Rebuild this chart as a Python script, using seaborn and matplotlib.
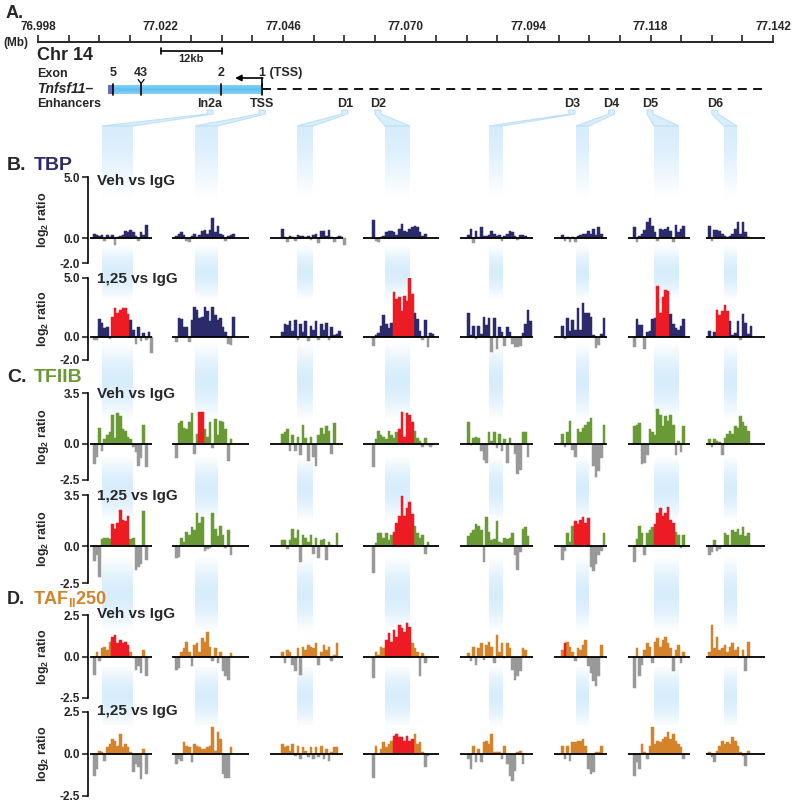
import numpy as np
import pandas as pd
import matplotlib
matplotlib.use('Agg')
import matplotlib.pyplot as plt
import seaborn as sns
from matplotlib.patches import Polygon, Rectangle

# ==========================
# Estilo
# ==========================
sns.set_style('white')
plt.rcParams['font.family'] = ['Liberation Sans', 'DejaVu Sans']
plt.rcParams['font.weight'] = 'bold'
plt.rcParams['mathtext.fontset'] = 'custom'
plt.rcParams['mathtext.rm'] = 'Liberation Sans:bold'
plt.rcParams['mathtext.bf'] = 'Liberation Sans:bold'
plt.rcParams['mathtext.it'] = 'Liberation Sans:bold:italic'

# ==========================
# Datos: panel A (Mb)
# ==========================
ruler_major = [76.998, 77.022, 77.046, 77.070, 77.094, 77.118, 77.142]
ruler_labels = ['76.998', '77.022', '77.046', '77.070', '77.094', '77.118', '77.142']
ruler_minor = [77.004, 77.010, 77.016, 77.028, 77.034, 77.040, 77.052, 77.058,
               77.064, 77.076, 77.082, 77.088, 77.100, 77.106, 77.112, 77.124,
               77.130, 77.136]
exon_names = ['5', '43', '2', '1']
exon_mb = [77.0127, 77.0182, 77.0339, 77.0419]
gene_start_mb = 77.0117
locus_end_mb = 77.1398
enh_names = ['In2a', 'TSS', 'D1', 'D2', 'D3', 'D4', 'D5', 'D6']
enh_mb = [77.0317, 77.0419, 77.0581, 77.0646, 77.1026, 77.1104, 77.1179, 77.1306]

# ==========================
# Datos: log2 ratio por enhancer (8 grupos por fila)
# ==========================
tbp_veh = [
    [0.4, 0.3, 0.2, 0.3, -0.2, 0.3, 0.1, 0.3, -0.5, 0.1, 0.2, 0.3, 0.6, 0.5, 0.7, 0.5, 0.2, -0.2, 0.5, 0.3, 1.1],
    [0.2, 0.4, 0.5, 0.3, -0.2, -0.3, 0.2, 0.4, 0.1, 0.3, 0.6, 0.7, 0.4, 0.7, 1.7, 0.5, 1.0, 0.4, 0.3, -0.2, 0.2, 0.3, 0.4],
    [0.8, 0.1, -0.3, 0.2, 0.1, -0.2, 0.3, 0.2, 0.2, 0.1, 0.2, -0.1, 0.3, 0.4, -0.4, 0.6, 0.6, 0.2, 0.7, 0.1, -0.3, 0.1, 0.2, 0.1, -0.5],
    [1.5, -0.2, -0.3, 0.1, 0.2, 0.5, 0.6, 0.6, 0.5, 0.3, 0.8, 1.2, 0.6, 0.5, 0.8, 0.9, 1.0, 0.9, 0.5, 0.2, 0.4],
    [0.3, 0.8, -0.4, 0.6, 0.1, 0.9, 0.2, 0.2, 0.3, 0.6, 0.4, 0.2, 0.3, -0.2, 0.2, 0.4, 0.6, 0.5, 0.2, -0.1, 0.3, 0.3, 0.2],
    [0.3, -0.2, 0.1, -0.3, 0.1, -0.3, 0.2, 0.3, 0.4, 0.4, 0.6, 0.4, 0.8, 0.3, 0.9, 0.4],
    [0.9, -0.3, 0.2, 0.4, 0.7, 1.3, 1.7, 1.0, 0.5, -0.2, 0.8, 0.7, 0.8, 0.9, 0.6, -0.3, 1.1, 0.5, 0.8, 1.0],
    [1.0, -0.2, 0.7, 0.7, 0.6, 0.4, 0.2, 0.1, 0.2, 0.4, 0.8, 1.3, 0.4, 1.3, 0.5, 0.1],
]
tbp_125 = [
    [-0.3, -0.3, 1.5, 1.2, 0.7, 0.8, -0.2, 1.7, 2.4, 2.0, 2.3, 2.4, 2.4, 1.9, 1.4, 0.6, -0.6, 0.8, -0.4, 0.3, -0.3, 0.4, -1.4],
    [-0.5, 1.6, 1.5, 0.8, 0.8, -0.5, 1.4, 2.5, 2.3, 1.6, 1.7, 2.5, 2.2, 1.3, 2.5, 1.8, 1.4, 1.6, 0.8, 0.4, -0.6, -0.7, 1.7],
    [0.4, 1.1, 1.0, 1.3, 0.5, 1.4, -0.3, 1.1, 0.4, 1.3, -0.4, 0.9, 0.6, 1.3, -0.3, 1.1, 0.6, 1.2, -0.3, 0.8, 0.1, 0.2, 0.5],
    [-0.8, 0.1, 0.3, 0.9, 1.8, 1.1, 0.7, 1.2, 3.8, 3.2, 3.4, 2.2, 3.5, 3.0, 5.0, 3.6, 2.0, 1.5, 0.5, -0.3, 1.4, -0.9, 0.3, 0.2],
    [2.0, 0.1, 0.9, -0.2, 0.9, 0.2, 1.7, 1.0, 1.6, -1.3, 1.6, -1.1, 0.8, 0.4, -0.8, 0.8, 0.4, -0.6, -0.9, -0.9, -0.8, 0.3, 1.1, 2.3, 1.3],
    [0.9, -0.2, 1.6, 0.5, 1.4, 0.6, 2.4, 0.6, 2.9, 2.0, 2.0, 1.7, 0.1, -1.0, -0.7, 0.2, 1.6],
    [-0.9, 1.5, 1.0, 1.0, -1.1, 0.4, 0.5, 1.5, 1.6, 4.3, 2.0, 3.4, 4.0, 3.9, 1.9, 1.1, 0.7, 0.6, 0.9, 1.5],
    [0.5, -0.1, 0.4, 2.3, 1.8, 2.2, 2.7, 2.2, 1.3, 0.1, 0.3, 1.3, -0.3, 1.9, 1.2, 0.2, 0.9],
]
tfiib_veh = [
    [-1.4, -0.9, 1.1, -0.5, 0.3, 0.6, 0.8, 2.0, 0.4, 2.1, 1.9, 1.0, 0.9, 0.5, 0.3, -0.2, -0.6, -1.5, -1.0, 1.3, -1.6],
    [-1.0, 1.4, 1.6, 1.1, 1.0, 1.5, 2.1, -0.7, 0.7, 2.2, 2.2, 1.0, 0.5, 1.5, -0.3, 1.7, 0.6, 1.6, 1.5, 1.0, -1.2, 0.3],
    [0.7, 0.8, 1.0, -0.5, 0.6, -0.5, 0.5, -0.8, 1.3, 0.4, -1.2, 0.5, -0.9, -1.5, 0.6, 1.1, 0.7, 1.2, 0.9, -0.7, 1.4],
    [-1.6, 0.3, 0.9, 0.6, 0.5, 0.3, 0.9, 0.6, 0.4, 0.8, 1.0, 2.2, 0.5, 2.1, 2.0, 1.5, 0.9, 0.4, 0.2, -0.2, 0.4, -0.1, -0.2, -0.1],
    [1.5, -0.1, 0.4, 0.5, 0.4, -0.5, -1.1, -1.3, 0.8, 0.2, 0.8, -0.3, 0.7, -0.5, 0.3, -1.3, 0.4, -0.1, -0.7, -2.1, -1.8, 0.8, 0.8, -0.9],
    [0.7, -0.2, 0.8, 1.6, -0.4, -0.9, 1.0, 0.8, 1.1, 1.3, 1.5, 1.8, -1.5, -2.3, -1.9, -1.0, 1.3],
    [1.2, 1.3, 1.4, -1.4, -1.3, -0.8, 1.0, 0.8, 0.6, 2.4, 2.0, 1.2, 1.9, 1.6, 2.0, 1.3, -0.8, 0.2, -0.6, 1.2],
    [0.3, -0.2, 0.3, 0.2, 0.1, -0.8, 0.4, 0.7, 0.9, 0.7, 1.2, 1.1, 1.9, 1.5, 1.2, 0.9],
]
tfiib_125 = [
    [-1.0, -0.6, -2.1, 0.5, 0.6, 0.6, 0.5, 1.5, 1.2, 1.6, 2.5, 1.8, 1.7, 2.1, 0.5, 0.6, -1.6, -1.4, -1.2, 2.4, -0.9],
    [-0.8, -0.7, 0.6, 0.3, 1.0, 0.8, 1.3, 1.1, 2.3, 1.6, 2.0, -0.3, -0.2, -0.1, 2.3, 1.2, 0.7, 1.4, 0.8, -0.1, 1.1, -0.6],
    [0.4, 0.4, -0.2, 0.4, 1.2, 0.6, 1.1, -1.1, 0.8, 0.6, 0.3, 0.8, -0.5, 0.6, -0.8, 0.4, 0.5, -0.9, 0.3, 0.1, 0.0, 0.9],
    [-1.8, 0.2, 0.9, 0.9, 0.6, 0.9, 0.4, 0.8, 1.0, 1.6, 2.1, 3.4, 2.1, 2.6, 3.0, 2.2, 1.4, 0.9, 0.6, 0.8, -0.5, 0.3],
    [0.7, 0.9, 1.1, 1.5, 1.4, 1.1, -1.1, 2.0, 1.0, 0.4, 0.5, 1.7, 0.3, 0.2, 0.6, 0.5, 0.6, 0.9, -0.6, -1.6, -0.4, 1.2, 1.3, 0.7],
    [-0.9, -0.3, 0.9, 0.3, 1.4, 1.7, 1.5, 1.8, 2.0, 1.6, 1.9, -1.4, -1.7, -1.2, -0.6, -0.3, 0.9],
    [-1.1, 0.5, 1.4, 0.9, -0.6, 0.9, 1.1, 1.3, 1.5, 2.3, 2.6, 2.1, 2.3, 2.7, 1.8, 1.6, 1.0, 0.8, -0.1, 0.8],
    [-0.6, -0.4, 0.4, -0.3, -0.2, 0.0, 0.9, 0.8, 0.1, 1.1, 1.0, 1.2, 0.8, 1.3, 0.7, 0.9],
]
taf_veh = [
    [-1.1, 0.3, -0.3, 0.5, 0.6, 0.4, 0.9, 1.2, 1.3, 0.8, 1.0, 0.8, 0.9, 0.7, 0.3, -0.1, -0.8, -0.6, -1.0, 0.4, -1.2],
    [-0.8, -0.7, 0.3, 0.5, 0.9, 0.3, -0.6, 0.7, 0.8, 0.3, 1.1, 0.9, 1.5, 0.6, -0.3, 0.5, -0.4, 0.3, -0.9, -1.2, -1.4, 0.2],
    [0.3, -0.4, 0.4, 0.3, -0.5, -0.9, 0.5, -1.1, 0.6, 0.4, 0.7, 0.6, 0.5, 0.8, -0.5, 0.3, 0.7, 0.4, 0.6, -0.3, 0.1, 0.8],
    [-1.3, 0.3, 0.1, 0.6, 0.5, 1.0, 1.4, 0.9, 1.6, 1.2, 1.9, 1.7, 1.5, 2.0, 1.8, 0.8, 0.5, 0.3, -1.2, 0.2, -0.4],
    [0.2, -0.3, 0.6, -0.5, 0.5, 0.8, -0.2, 0.7, 0.9, 0.6, -0.4, 1.3, 0.3, 0.8, -0.1, 0.8, 0.5, -0.8, -1.4, -1.2, -0.9, 0.5, 0.4],
    [0.4, 0.8, 0.9, 0.6, 0.3, -0.3, 0.5, 0.4, 0.7, 1.0, -0.6, -1.0, -1.5, -1.8, -1.2, 0.7],
    [-1.9, 0.5, -1.2, -0.5, 0.4, 0.8, 0.6, -0.4, 0.9, 1.1, 0.6, 1.0, 1.2, 0.8, 0.5, -0.9, 0.4, 0.7, -0.4, 0.3],
    [0.3, 1.9, 0.5, 1.2, 0.4, 0.5, 0.7, 0.3, 0.6, 0.8, 0.4, 0.6, -0.1, 0.4, -0.9, 0.9],
]
taf_125 = [
    [-1.3, -0.9, 0.2, 0.1, -0.4, 0.4, 0.6, 0.9, 0.8, 0.5, 1.2, 0.4, 0.6, 0.4, 0.1, -1.1, -0.6, -0.8, -1.5, 0.3, -1.2],
    [-0.6, -0.3, -0.4, 0.7, 0.5, 0.4, -0.5, 0.6, 0.5, 0.4, 0.3, 0.3, 0.4, 0.5, 1.6, 0.2, 1.3, 0.9, -1.2, -1.4, -1.4, 0.4],
    [0.6, 0.4, 0.5, 0.2, 0.6, -0.1, 0.5, -0.3, 0.4, 0.2, -0.2, 0.4, -0.3, 0.4, -0.2, 0.5, -0.3, 0.3, -0.4, 0.1, 0.4, 0.4],
    [-1.4, 0.5, 0.0, 0.3, 0.7, 0.4, 0.6, 0.8, 1.1, 1.2, 1.0, 1.0, 0.8, 1.1, 0.8, 0.9, 1.2, 0.6, 0.7, 0.1, -0.8, -0.1],
    [-0.3, -0.9, 0.5, -0.5, 0.3, -0.5, 0.7, 0.8, 0.6, 1.2, 0.1, 0.1, 0.1, -0.3, 0.5, -0.6, -1.3, -1.6, -1.0, 0.1, 0.2, -0.6],
    [0.5, -0.3, 0.5, -0.4, 0.7, 0.7, 0.8, 0.8, 0.9, 0.5, -0.9, -1.2, -1.1, 0.1, 0.1, 0.5],
    [-1.3, -0.5, -0.9, 0.6, 0.1, -0.3, 0.5, 1.6, 0.6, 0.8, 0.7, 0.9, 1.0, 1.3, 0.9, 1.2, 0.8, 0.6, 0.4, -0.3],
    [0.1, -0.2, -0.5, 0.2, 0.5, 0.8, 0.6, 0.7, 0.6, 1.0, 0.8, 0.5, 0.1, -0.1, -0.7, 0.2],
]

# sondas resaltadas en rojo (inicio, fin) por grupo
tbp_veh_red = [None] * 8
tbp_125_red = [(7, 14), None, None, (8, 16), None, None, (9, 14), (3, 8)]
tfiib_veh_red = [None, (9, 11), None, (10, 16), None, None, None, None]
tfiib_125_red = [(7, 14), None, None, (8, 16), None, (5, 11), (8, 16), None]
taf_veh_red = [(7, 14), None, None, (5, 15), None, (1, 2), None, None]
taf_125_red = [None, None, None, (8, 16), None, None, None, None]

# ==========================
# Colores
# ==========================
c_tbp = '#2b2a6a'
c_tfiib = '#6a9a36'
c_taf = '#d4832b'
c_gray = '#999999'
c_red = '#ed1c24'
c_light = np.array([0.82, 0.92, 0.985])

# ==========================
# Layout (pixeles)
# ==========================
W, H = 800, 806
group_span = [(90, 152), (172, 249), (270, 343), (363, 439),
              (460, 533), (554, 607), (628, 690), (706, 765)]
bar_start = [93, 175, 281, 372, 467, 561, 633, 708]
probe_step = 2.6
band_x = [(102, 133), (195, 218), (297, 313), (385, 410),
          (489, 503), (576, 589), (654, 679), (724, 737)]
band_y = [(126, 200), (245, 300), (342, 420), (455, 522), (556, 632), (664, 728)]


def px_rect(x0, y0, x1, y1):
    return [x0 / W, 1 - y1 / H, (x1 - x0) / W, (y1 - y0) / H]


def mb2px(m):
    return 38 + (m - 76.998) / 0.144 * 735


fig = plt.figure(figsize=(8, 8.06), dpi=100)

bg = fig.add_axes([0, 0, 1, 1])
bg.set_xlim(0, W)
bg.set_ylim(H, 0)
bg.axis('off')

# ==========================
# Bandas azules de fondo
# ==========================
prof = np.sin(np.linspace(0, np.pi, 120)) ** 1.1
prof_top = np.cos(np.linspace(0, np.pi / 2, 120)) ** 1.3
for j, (y0, y1) in enumerate(band_y):
    p = prof_top if j == 0 else prof
    rgba = np.zeros((len(p), 1, 4))
    rgba[..., :3] = c_light
    rgba[:, 0, 3] = p * 0.85
    for (x0, x1) in band_x:
        bg.imshow(rgba, extent=(x0, x1, y1, y0), aspect='auto',
                  interpolation='bilinear', zorder=0)

for m, (x0, x1) in zip(enh_mb, band_x):
    c = mb2px(m)
    bg.add_patch(Polygon([(c - 3, 110), (c + 3, 110), (c + 3, 114), (x1, 126),
                          (x0, 126), (c - 3, 114)], closed=True,
                         facecolor=c_light, edgecolor='#b8ddf5', lw=0.8,
                         alpha=0.85, zorder=0))

# ==========================
# Panel A
# ==========================
bg.text(6, 14, 'A.', fontsize=13, va='center')
bg.text(3, 43, '(Mb)', fontsize=8.5, va='center')

ax_r = fig.add_axes(px_rect(38, 40, 773, 41.5))
ax_r.patch.set_alpha(0)
ax_r.set_xlim(76.998, 77.142)
ax_r.set_ylim(0, 1)
ax_r.set_yticks([])
for s in ['top', 'left', 'right']:
    ax_r.spines[s].set_visible(False)
ax_r.spines['bottom'].set_linewidth(1.4)
ax_r.set_xticks(ruler_major, labels=ruler_labels)
ax_r.set_xticks(ruler_minor, minor=True)
ax_r.tick_params(axis='x', which='both', direction='in', length=5, width=1.2,
                 top=False, bottom=True, labelbottom=False, labeltop=True,
                 labelsize=8.5, pad=5)

bg.text(37, 56, 'Chr 14', fontsize=13, va='center')
x12a, x12b = mb2px(77.022), mb2px(77.034)
bg.plot([x12a, x12b], [51, 51], color='k', lw=1.2)
bg.plot([x12a, x12a], [48, 54], color='k', lw=1.2)
bg.plot([x12b, x12b], [48, 54], color='k', lw=1.2)
bg.text((x12a + x12b) / 2, 59, '12kb', fontsize=8, ha='center', va='center')

bg.text(37, 74, 'Exon', fontsize=9, va='center')
for name, m in zip(exon_names, exon_mb):
    if name == '1':
        bg.text(mb2px(m) - 3, 73, '1 (TSS)', fontsize=9, va='center')
    else:
        bg.text(mb2px(m), 73, name, fontsize=9, ha='center', va='center')

bg.text(37, 89, 'Tnfsf11\u2013', fontsize=10, style='italic', va='center')
x_tss = mb2px(exon_mb[3])
bg.plot([x_tss, mb2px(locus_end_mb)], [89, 89], color='k',
        lw=1.3, dashes=(5, 3.5), zorder=2)
grad = np.array([0.62, 0.85, 1.0, 0.85, 0.62])
gene_rgb = np.zeros((len(grad), 1, 3))
gene_rgb[:, 0, :] = (np.array([0.80, 0.92, 0.99]) * (1 - grad[:, None])
                     + np.array([0.36, 0.75, 0.94]) * grad[:, None])
bg.imshow(gene_rgb, extent=(mb2px(exon_mb[0]), x_tss, 94, 85), aspect='auto',
          interpolation='bicubic', zorder=3)
bg.add_patch(Rectangle((mb2px(gene_start_mb), 85), mb2px(exon_mb[0]) - mb2px(gene_start_mb),
                       9, facecolor='#6c6cbc', edgecolor='none', zorder=3))
for m in exon_mb:
    bg.plot([mb2px(m), mb2px(m)], [84, 95], color='k', lw=1.2, zorder=4)
xe = mb2px(exon_mb[1])
bg.plot([xe - 3, xe, xe + 3], [79.5, 83.5, 79.5], color='k', lw=0.9, zorder=4)
bg.plot([x_tss, x_tss], [78, 86], color='k', lw=1.2, zorder=4)
bg.annotate('', xy=(x_tss - 27, 78), xytext=(x_tss + 0.6, 78),
            arrowprops=dict(arrowstyle='-|>', color='k', lw=1.2,
                            mutation_scale=9, shrinkA=0, shrinkB=0), zorder=4)

bg.text(37, 104, 'Enhancers', fontsize=9, va='center')
for name, m in zip(enh_names, enh_mb):
    bg.text(mb2px(m), 104, name, fontsize=9, ha='center', va='center')

# ==========================
# Paneles B-D
# ==========================
rows = [
    dict(data=tbp_veh, red=tbp_veh_red, col=c_tbp, lim=(-2.0, 5.0), px=(177, 263),
         sub='Veh vs IgG', sub_y=181),
    dict(data=tbp_125, red=tbp_125_red, col=c_tbp, lim=(-2.0, 5.0), px=(278, 360),
         sub='1,25 vs IgG', sub_y=279),
    dict(data=tfiib_veh, red=tfiib_veh_red, col=c_tfiib, lim=(-2.5, 3.5), px=(393, 480),
         sub='Veh vs IgG', sub_y=394),
    dict(data=tfiib_125, red=tfiib_125_red, col=c_tfiib, lim=(-2.5, 3.5), px=(495, 583),
         sub='1,25 vs IgG', sub_y=496),
    dict(data=taf_veh, red=taf_veh_red, col=c_taf, lim=(-2.5, 2.5), px=(615, 698),
         sub='Veh vs IgG', sub_y=614),
    dict(data=taf_125, red=taf_125_red, col=c_taf, lim=(-2.5, 2.5), px=(712, 796),
         sub='1,25 vs IgG', sub_y=711),
]


def row_frame(groups, red):
    recs = []
    for g, vals in enumerate(groups):
        for i, v in enumerate(vals):
            if red[g] is not None and red[g][0] <= i < red[g][1]:
                kind = 'hi'
            elif v < 0:
                kind = 'neg'
            else:
                kind = 'pos'
            recs.append((bar_start[g] + (i + 0.5) * probe_step, v, kind))
    return pd.DataFrame(recs, columns=['pos', 'log2', 'kind'])


for r in rows:
    top, bot = r['px']
    ax = fig.add_axes(px_rect(88, top, 775, bot))
    ax.patch.set_alpha(0)
    df = row_frame(r['data'], r['red'])
    sns.barplot(data=df, x='pos', y='log2', hue='kind',
                palette={'pos': r['col'], 'neg': c_gray, 'hi': c_red},
                native_scale=True, dodge=False, width=1.0, errorbar=None,
                saturation=1, linewidth=0, legend=False, ax=ax)
    # relleno solido de cada barra
    for p in ax.patches:
        p.set_edgecolor(p.get_facecolor())
        p.set_linewidth(0.35)
    for (x0, x1) in group_span:
        ax.hlines(0, x0, x1, color='k', lw=1.3, zorder=5)
    ax.set_xlim(88, 775)
    ax.set_ylim(*r['lim'])
    ax.set_xticks([])
    ax.set_xlabel('')
    ax.set_ylabel('')
    lo, hi = r['lim']
    ax.set_yticks([hi, 0, lo], labels=[f'{hi:.1f}', '0.0', f'{lo:.1f}'])
    ax.tick_params(axis='y', direction='out', length=4, width=1.2,
                   labelsize=8.5, pad=2, left=True)
    for s in ['top', 'right', 'bottom']:
        ax.spines[s].set_visible(False)
    ax.spines['left'].set_linewidth(1.2)
    ax.spines['left'].set_color('k')
    bg.text(97, r['sub_y'], r['sub'], fontsize=11, va='center')
    bg.text(43, (top + bot) / 2, r'log$_{\mathbf{2}}$ ratio', fontsize=9,
            rotation=90, ha='center', va='center')

# titulos de seccion
bg.text(7, 166, 'B.', fontsize=14, va='center')
bg.text(34, 166, 'TBP', fontsize=14, va='center', color=c_tbp)
bg.text(7, 377, 'C.', fontsize=14, va='center')
bg.text(34, 377, 'TFIIB', fontsize=14, va='center', color=c_tfiib)
bg.text(7, 599, 'D.', fontsize=13, va='center')
bg.text(33, 599, r'TAF$_{\mathbf{II}}$250', fontsize=13, va='center', color=c_taf)

fig.savefig('out.png', dpi=100)
